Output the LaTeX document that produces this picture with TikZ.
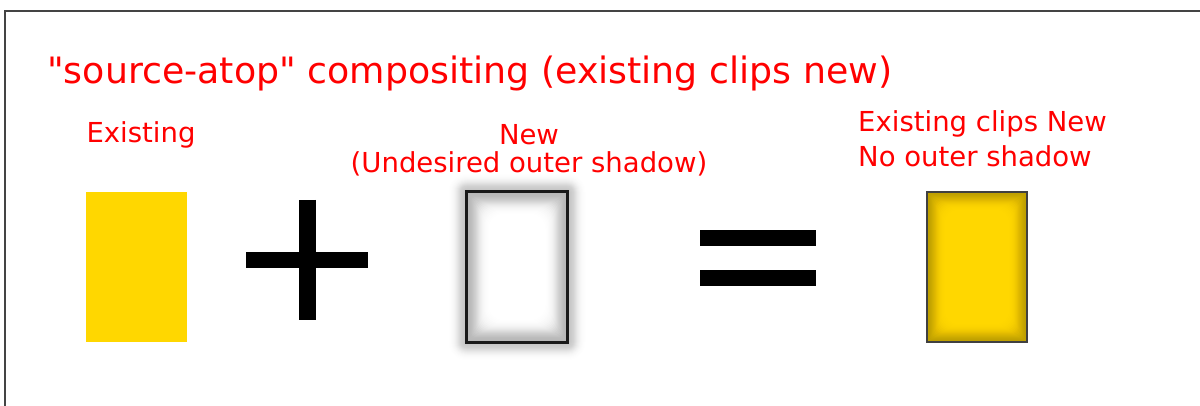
\documentclass[tikz,border=0pt]{standalone}
\usepackage{fontspec}
\newfontfamily\verdana{DejaVu Sans}
\usetikzlibrary{positioning}
\definecolor{labelred}{HTML}{FF0000}
\definecolor{gold}{HTML}{FFD700}
\definecolor{framegray}{HTML}{444444}

\begin{document}
\begin{tikzpicture}[x=1pt, y=-1pt,
    label/.style={text=labelred, font=\verdana\fontsize{27.5}{28}\selectfont, inner sep=0pt},
    box/.style={minimum width=101pt, minimum height=150pt, inner sep=0pt, outer sep=0pt},
    bar/.style={line width=16pt},
    shade/.style={fill=black, fill opacity=#1, even odd rule}]
    \useasboundingbox (0,0) rectangle (1200,406);

    % Frame
    \draw[framegray, line width=2pt] (5,406) -- (5,11) -- (1200,11);

    % Title
    \node[label, font=\verdana\fontsize{36.3}{40}\selectfont, anchor=base west] (title) at (47,84)
        {"source-atop" compositing (existing clips new)};

    % Labels (base = last line)
    \node[label, anchor=base] (existlbl) at (141,143) {Existing};
    \node[label, anchor=base, align=center] (newlbl) at (529,173) {New\\(Undesired outer shadow)};
    \node[label, anchor=base west, align=left, font=\verdana\fontsize{27.5}{35}\selectfont] (reslbl) at (858,167)
        {Existing clips New\\No outer shadow};

    % Existing
    \node[box, fill=gold] (exist) at (136,267) {};

    % Plus
    \draw[bar] (246,260) -- (368,260);
    \draw[bar, line width=17pt] (307.5,200) -- (307.5,320);

    % New, with shadow outside and inside
    \node[box] (new) at (517,267) {};
    \foreach \i [evaluate=\i as \a using {0.26*(exp(-((\i-1)/9)^2)-exp(-(\i/9)^2))}] in {1,...,20}
        \path[shade=\a]
            [rounded corners=\i pt] ([shift={(-\i,-\i)}]new.north west) rectangle ([shift={(\i,\i)}]new.south east)
            [sharp corners] (new.north west) rectangle (new.south east);
    \foreach \i [evaluate=\i as \a using {0.34*(exp(-((\i-1)/11)^2)-exp(-(\i/11)^2))}] in {1,...,28}
        \path[shade=\a]
            (new.north west) rectangle (new.south east)
            [rounded corners=0.7*\i pt] ([shift={(\i,\i)}]new.north west) rectangle ([shift={(-\i,-\i)}]new.south east);
    \draw[black!90, line width=3pt] (new.north west) rectangle (new.south east);

    % Equals
    \draw[bar] (700,238) -- (816,238);
    \draw[bar] (700,278) -- (816,278);

    % Result, with inner shadow only
    \node[box, minimum width=100pt, fill=gold] (res) at (977,267) {};
    \foreach \i [evaluate=\i as \a using {0.26*(exp(-((\i-1)/9)^2)-exp(-(\i/9)^2))}] in {1,...,22}
        \path[shade=\a]
            (res.north west) rectangle (res.south east)
            [rounded corners=0.7*\i pt] ([shift={(\i,\i)}]res.north west) rectangle ([shift={(-\i,-\i)}]res.south east);
    \draw[black!75, line width=2pt] (res.north west) rectangle (res.south east);
\end{tikzpicture}
\end{document}
